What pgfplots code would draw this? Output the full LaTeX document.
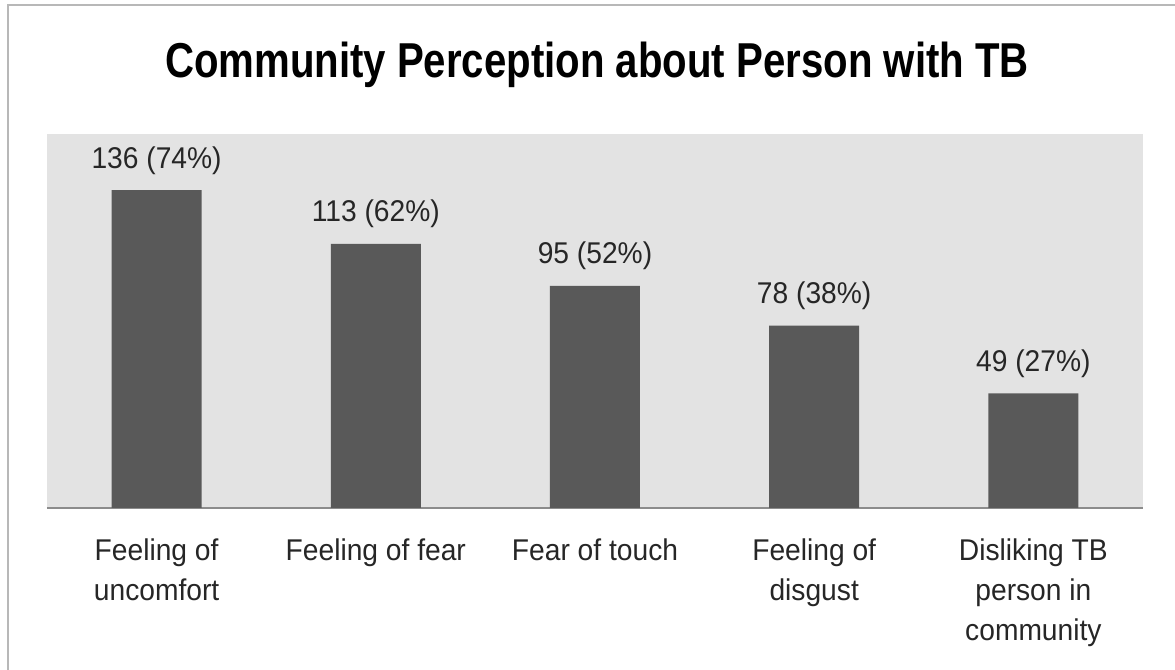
\documentclass[border=0pt]{standalone}
\usepackage{pgfplots}
\usepackage{pgfplotstable}
\pgfplotsset{compat=1.18}
\usepackage{fontspec}
\setmainfont{Liberation Sans}[FakeStretch=0.94]
\newfontfamily\titlefont{Liberation Sans}[FakeStretch=0.82]

\definecolor{bgcol}{HTML}{E3E3E3}
\definecolor{barcol}{HTML}{595959}
\definecolor{basecol}{HTML}{8C8C8C}
\definecolor{framecol}{HTML}{B8B8B8}
\definecolor{labcol}{HTML}{262626}

% count and share of respondents per perception
\pgfplotstableread{
x y pct
0 136 74
1 113 62
2 95 52
3 78 38
4 49 27
}\perception

\begin{document}
\begin{tikzpicture}[x=1pt,y=1pt]
\useasboundingbox (0,0) rectangle (587.5,335);
\draw[color=framecol, line width=1.1pt] (4,0) -- (4,332.5) -- (587.5,332.5);
\node[anchor=base, font=\titlefont\bfseries\fontsize{24.5}{29}\selectfont] at (298.5,296)
  {Community Perception about Person with TB};
\begin{axis}[
  at={(23.5pt,81pt)}, anchor=south west,
  scale only axis, width=548pt, height=187pt,
  xmin=-0.5, xmax=4.5, ymin=0, ymax=160,
  axis x line*=bottom, axis y line=none,
  x axis line style={-, draw=basecol, line width=1pt},
  axis background/.style={fill=bgcol},
  xtick={0,1,2,3,4},
  xticklabels={{Feeling of\\uncomfort},{Feeling of fear},{Fear of touch},{Feeling of\\disgust},{Disliking TB\\person in\\community}},
  xtick style={draw=none}, major tick length=0pt,
  ytick=\empty,
  xticklabel style={anchor=north, inner sep=0pt, yshift=-15pt, align=center,
    font=\fontsize{15}{20}\selectfont, text=labcol},
  ybar, bar width=45pt,
  clip=false,
  point meta=explicit symbolic,
  visualization depends on={\thisrow{pct} \as \pct},
  nodes near coords={\pgfplotspointmeta\ (\pgfmathprintnumber[assume math mode=true,fixed,precision=0]{\pct}\%)},
  every node near coord/.append style={anchor=base, yshift=11pt, inner sep=0pt,
    font=\fontsize{15}{18}\selectfont, text=labcol},
]
\addplot[fill=barcol, draw=none] table[x=x, y=y, meta=y] {\perception};
\end{axis}
\end{tikzpicture}
\end{document}
